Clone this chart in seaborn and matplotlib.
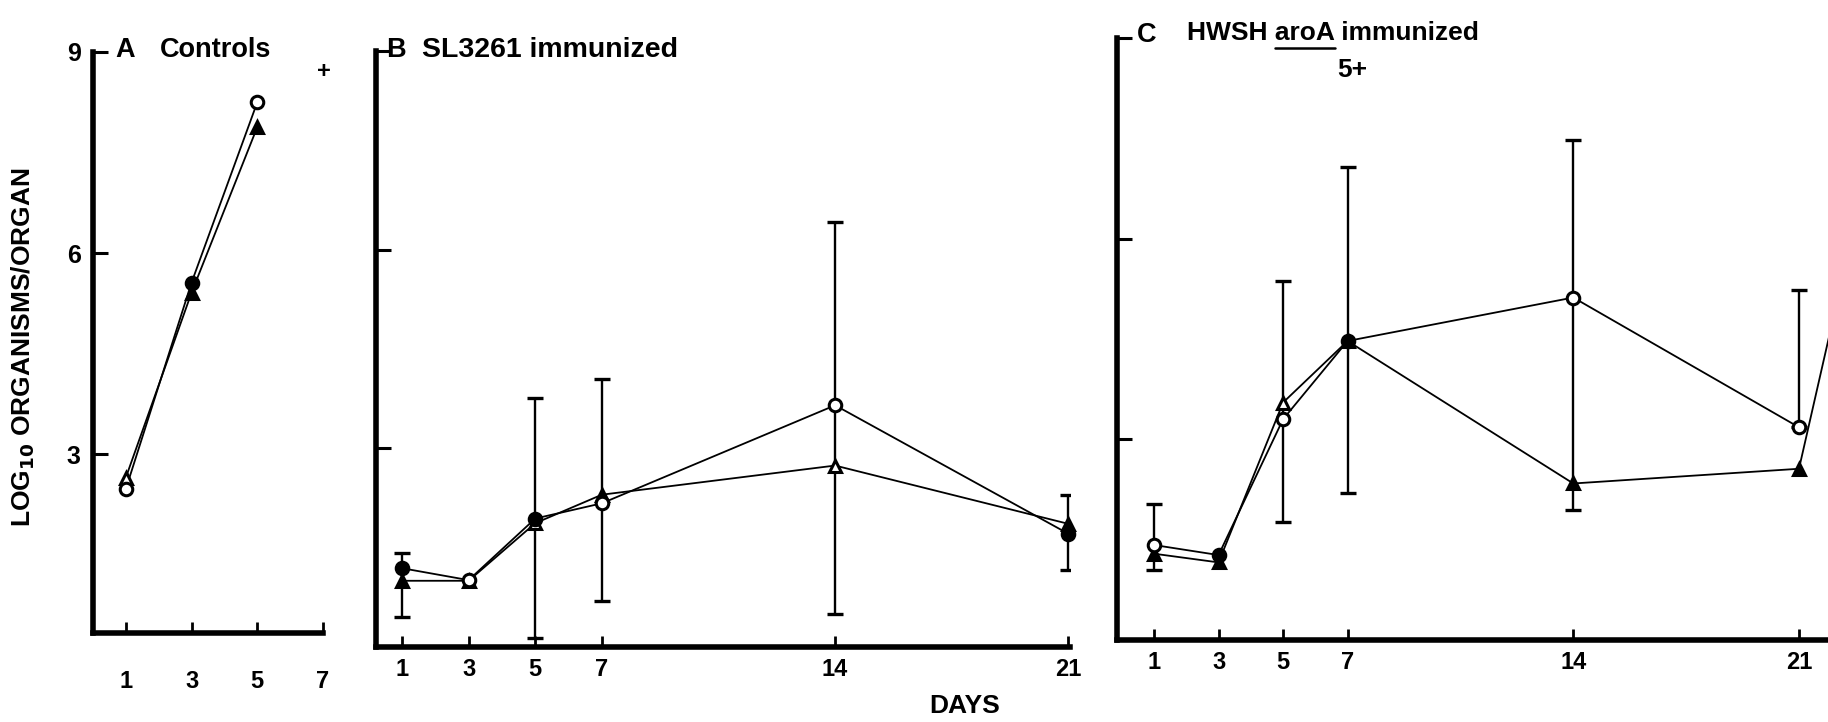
import matplotlib
matplotlib.use("Agg")
import matplotlib.pyplot as plt
from matplotlib.lines import Line2D
import seaborn as sns

sns.set_theme(style="ticks")
plt.rcParams['font.family'] = ['Liberation Sans', 'DejaVu Sans']
plt.rcParams['font.weight'] = 'bold'

# ---------------- data ----------------
days_a = [1, 3, 5]
a_circle = [2.48, 5.56, 8.25]
a_triangle = [2.65, 5.41, 7.88]

days = [1, 3, 5, 7, 14, 21]
b_circle = [1.19, 1.01, 1.94, 2.17, 3.65, 1.71]
b_triangle = [1.00, 1.00, 1.87, 2.30, 2.74, 1.86]
b_err_days = [1, 5, 7, 14, 21]
b_err_low = [0.46, 0.13, 0.69, 0.50, 1.17]
b_err_high = [1.42, 3.76, 4.04, 6.42, 2.29]

c_circle = [1.42, 1.27, 3.30, 4.47, 5.12, 3.18]
c_triangle = [1.29, 1.16, 3.55, 4.47, 2.34, 2.56]
c_err_days = [1, 5, 7, 14, 21]
c_err_low = [1.05, 1.77, 2.20, 1.95, 3.18]
c_err_high = [2.04, 5.36, 7.07, 7.48, 5.23]
# next (off-panel) triangle point, partly visible at the right edge
c_tri_next_day = [22.2]
c_tri_next_val = [5.1]

day_ticks_a = [1, 3, 5, 7]
day_ticks = [1, 3, 5, 7, 14, 21]
y_ticks = [3, 6, 9]

# marker fill appearance (as in the scanned figure)
a_circ_fill = [False, True, False]
a_tri_fill = [False, True, True]
b_circ_fill = [True, False, True, False, False, True]
b_tri_fill = [True, True, False, True, False, True]
c_circ_fill = [False, True, False, True, False, False]
c_tri_fill = [True, True, False, True, True, True]

W, H = 1828, 722
fig = plt.figure(figsize=(W / 100, H / 100), dpi=100)


def px_axes(left, right, top, bottom):
    return fig.add_axes([left / W, 1 - bottom / H, (right - left) / W, (bottom - top) / H])


axA = px_axes(93, 323, 52, 633)
axB = px_axes(376, 1070, 51, 647)
axC = px_axes(1117, 1828, 38, 640)

LINE_LW = 1.3


def series(ax, x, y, marker, fills, ms, extra_x=None, extra_y=None):
    xs = list(x) + (list(extra_x) if extra_x else [])
    ys = list(y) + (list(extra_y) if extra_y else [])
    sns.lineplot(x=xs, y=ys, ax=ax, color='black', lw=LINE_LW,
                 estimator=None, sort=False, legend=False)
    for xi, yi, f in zip(x, y, fills):
        ax.plot([xi], [yi], marker=marker, ms=ms, mfc='black' if f else 'white',
                mec='black', mew=2.2, ls='none', zorder=6, clip_on=False)


def errbars(ax, x, lo, hi):
    mid = [(a + b) / 2 for a, b in zip(lo, hi)]
    half = [(b - a) / 2 for a, b in zip(lo, hi)]
    ax.errorbar(x, mid, yerr=half, fmt='none', ecolor='black', elinewidth=1.7,
                capsize=5.5, capthick=2.4, zorder=4)


# Panel A
series(axA, days_a, a_triangle, '^', a_tri_fill, 8)
series(axA, days_a, a_circle, 'o', a_circ_fill, 9)
axA.set_xlim(0, 7)
axA.set_ylim(0.33, 9)
axA.set_xticks(day_ticks_a)
axA.set_yticks(y_ticks)
axA.set_yticklabels([str(t) for t in y_ticks])

# Panel B
errbars(axB, b_err_days, b_err_low, b_err_high)
series(axB, days, b_triangle, '^', b_tri_fill, 8)
series(axB, days, b_circle, 'o', b_circ_fill, 9)
axB.set_xlim(0.22, 21.05)
axB.set_ylim(0, 9)
axB.set_xticks(day_ticks)
axB.set_yticks(y_ticks)
axB.set_yticklabels([])

# Panel C
errbars(axC, c_err_days, c_err_low, c_err_high)
series(axC, days, c_triangle, '^', c_tri_fill, 8, c_tri_next_day, c_tri_next_val)
series(axC, days, c_circle, 'o', c_circ_fill, 9)
axC.set_xlim(-0.15, 21.9)
axC.set_ylim(0, 9)
axC.set_xticks(day_ticks)
axC.set_yticks(y_ticks)
axC.set_yticklabels([])

for ax in (axA, axB, axC):
    sns.despine(ax=ax)
    ax.set_facecolor('white')
    for s in ('left', 'bottom'):
        ax.spines[s].set_linewidth(4)
        ax.spines[s].set_color('black')
    ax.tick_params(axis='y', direction='in', length=11, width=2.2, colors='black',
                   labelsize=18, pad=9)
    ax.tick_params(axis='x', direction='in', length=8, width=2.0, colors='black',
                   labelsize=17, pad=8)
    for lab in ax.get_xticklabels() + ax.get_yticklabels():
        lab.set_fontweight('bold')
    ax.set_xlabel('')
    ax.set_ylabel('')
axA.tick_params(axis='x', pad=27)


def ftxt(x, y, s, **kw):
    kw.setdefault('fontsize', 19.5)
    kw.setdefault('color', 'black')
    kw.setdefault('fontweight', 'bold')
    return fig.text(x / W, 1 - y / H, s, **kw)


# titles
ftxt(115, 50, 'A', va='center', ha='left')
ftxt(160, 50, 'Controls', va='center', ha='left')
ftxt(324, 72, '+', va='center', ha='center', fontsize=17)

ftxt(386, 50, 'B', va='center', ha='left')
ftxt(422, 50, 'SL3261 immunized', va='center', ha='left', fontsize=20.5)

ftxt(1137, 35, 'C', va='center', ha='left')
c_x0, c_y0 = 1187, 33
ftxt(c_x0, c_y0, 'HWSH aroA immunized', va='center', ha='left', fontsize=19)
ftxt(1352, 70, '5+', va='center', ha='center', fontsize=19)

ftxt(965, 706, 'DAYS', va='center', ha='center', fontsize=19)
ftxt(23, 347, 'LOG$_{\\mathbf{10}}$ ORGANISMS/ORGAN', va='center', ha='center',
     rotation=90, fontsize=19)

# underline "aroA"
fig.canvas.draw()
r = fig.canvas.get_renderer()
tmp1 = ftxt(c_x0, c_y0, 'HWSH aroA', va='center', ha='left', fontsize=19)
tmp2 = ftxt(c_x0, c_y0, 'aroA', va='center', ha='left', fontsize=19)
e1 = tmp1.get_window_extent(renderer=r)
e2 = tmp2.get_window_extent(renderer=r)
tmp1.remove()
tmp2.remove()
ux1 = e1.x1
ux0 = e1.x1 - e2.width
uy = e1.y0 - 3
inv = fig.transFigure.inverted()
(p0x, p0y), (p1x, p1y) = inv.transform([(ux0, uy), (ux1, uy)])
fig.add_artist(Line2D([p0x, p1x], [p0y, p1y], color='black', lw=1.8,
                      transform=fig.transFigure))

fig.savefig('out.png', dpi=100, facecolor='white')
